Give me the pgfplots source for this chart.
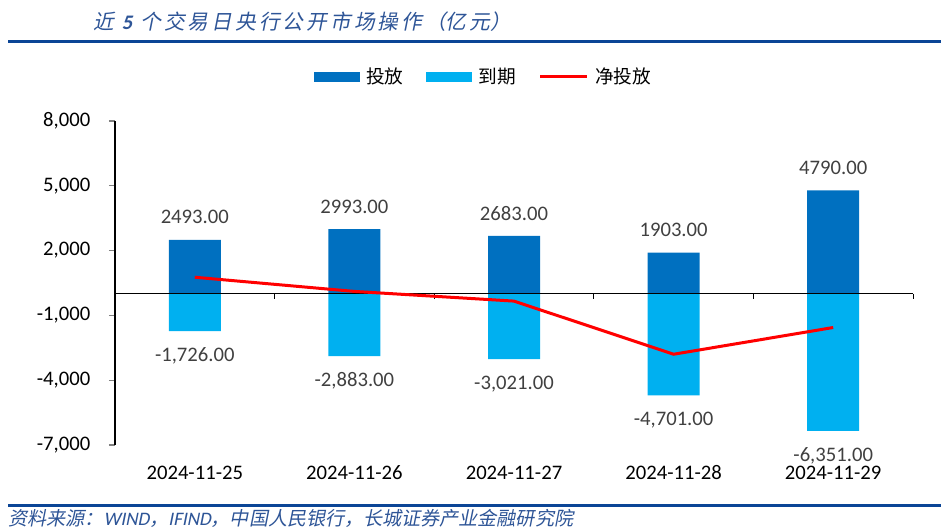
\documentclass[border=0pt]{standalone}
\usepackage{fontspec}
\setmainfont{Carlito}
\newfontfamily\cjk{Noto Sans CJK SC}
\newfontfamily\cjkit[FakeSlant=0.2]{Noto Sans CJK SC}
\newfontfamily\latit[FakeSlant=0.2]{Carlito}
\usepackage{pgfplots}
\usepackage{pgfplotstable}
\pgfplotsset{compat=1.18}
\definecolor{tou}{HTML}{0070C0}
\definecolor{dao}{HTML}{00B0F0}
\definecolor{ttl}{HTML}{2E5597}
\definecolor{rule}{HTML}{0B4596}
\definecolor{lab}{HTML}{404040}
\pgfplotstableread{
x y lab
0 2493 2493.00
1 2993 2993.00
2 2683 2683.00
3 1903 1903.00
4 4790 4790.00
}\tdata
\pgfplotstableread{
x y lab
0 -1726 -1,726.00
1 -2883 -2,883.00
2 -3021 -3,021.00
3 -4701 -4,701.00
4 -6351 -6,351.00
}\ddata
\pgfplotstableread{
x y
0 767
1 110
2 -338
3 -2798
4 -1561
}\ndata
\newcommand\g{\hspace{2.3pt}}
\begin{document}
\begin{tikzpicture}
\begin{scope}[x=0.75pt,y=-0.75pt]
\useasboundingbox (0,0) rectangle (941,531);
\draw[rule, line width=2.25pt] (8,42) -- (941,42);
\draw[rule, line width=2.25pt] (8,505) -- (941,505);
\node[anchor=west, text=ttl, inner sep=0pt, font=\fontsize{15.5}{15.5}\selectfont] at (93,22)
  {\cjkit 近\hspace{6pt}{\latit\bfseries 5}\hspace{6pt}个\g 交\g 易\g 日\g 央\g 行\g 公\g 开\g 市\g 场\g 操\g 作\g （亿\g 元）};
\node[anchor=west, text=ttl, inner sep=0pt, font=\fontsize{14.3}{14.3}\selectfont] at (8,518)
  {\cjkit 资料来源：{\latit WIND}，{\latit IFIND}，中国人民银行，长城证券产业金融研究院};
\end{scope}
\begin{axis}[
  at={(86.25pt,-333.75pt)}, anchor=south west,
  scale only axis, width=598.5pt, height=243pt,
  xmin=-0.5, xmax=4.5, ymin=-7000, ymax=8000,
  clip=false,
  axis y line=left, axis x line=bottom,
  y axis line style={-, line width=1pt},
  x axis line style={draw=none},
  ytick={-7000,-4000,...,8000},
  scaled y ticks=false,
  yticklabel style={xshift=-10.5pt, /pgf/number format/.cd, 1000 sep={,}, assume math mode=true},
  xtick={0,1,2,3,4},
  xticklabels={2024-11-25,2024-11-26,2024-11-27,2024-11-28,2024-11-29},
  major x tick style={draw=none},
  major y tick style={line width=1pt},
  tick align=outside,
  major tick length=4.5pt,
  tick label style={font=\fontsize{15.5}{15.5}\selectfont, text=black},
  xticklabel style={yshift=-7.5pt},
  legend style={at={(0.462,1.136)}, anchor=center, draw=none, fill=none,
    legend columns=3, font=\cjk\fontsize{14}{14}\selectfont,
    /tikz/every odd column/.append style={column sep=3pt},
    /tikz/every even column/.append style={column sep=15pt}},
]
\addplot[ybar, bar width=39pt, bar shift=0pt, fill=tou, draw=none,
  nodes near coords, point meta=explicit symbolic,
  nodes near coords style={anchor=center, yshift=17pt, text=lab, font=\fontsize{15.5}{15.5}\selectfont},
  legend image code/.code={\fill[tou] (0pt,-3.75pt) rectangle (34.5pt,3.75pt);}]
  table[x=x,y=y,meta=lab] {\tdata};
\addlegendentry{投放}
\addplot[ybar, bar width=39pt, bar shift=0pt, fill=dao, draw=none,
  nodes near coords, point meta=explicit symbolic,
  nodes near coords style={anchor=center, yshift=-18.5pt, text=lab, font=\fontsize{15.5}{15.5}\selectfont},
  legend image code/.code={\fill[dao] (0pt,-3.75pt) rectangle (34.5pt,3.75pt);}]
  table[x=x,y=y,meta=lab] {\ddata};
\addlegendentry{到期}
\draw[black, line width=0.75pt] (axis cs:-0.5,0) -- (axis cs:4.5,0);
\pgfplotsinvokeforeach{0.5,1.5,2.5,3.5,4.5}{\draw[black, line width=0.75pt] (axis cs:#1,0) -- ([yshift=-4pt]axis cs:#1,0);}
\addplot[red, line width=2.25pt, mark=none,
  legend image code/.code={\draw[red, line width=2.25pt] (0pt,0pt) -- (35pt,0pt);}]
  table[x=x,y=y] {\ndata};
\addlegendentry{净投放}
\end{axis}
\end{tikzpicture}
\end{document}
